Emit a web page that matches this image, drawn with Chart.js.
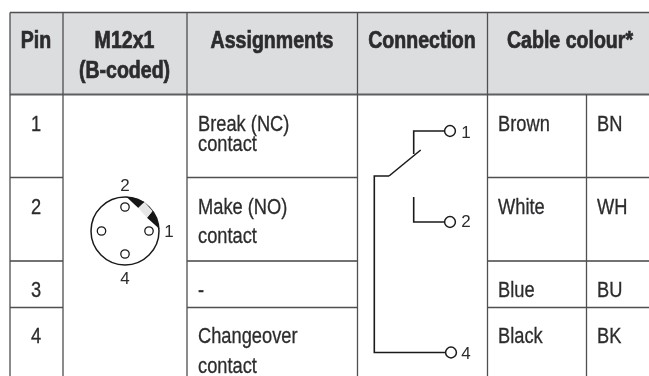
<!DOCTYPE html>
<html>
<head>
<meta charset="utf-8">
<script src="https://cdn.jsdelivr.net/npm/chart.js@4"></script>
<style>
  html, body { margin: 0; padding: 0; background: #fff; }
  canvas { display: block; }
</style>
</head>
<body>
<canvas id="myChart" width="649" height="376"></canvas>
<script>
// Table contents
const headers = [["Pin"], ["M12x1", "(B-coded)"], ["Assignments"], ["Connection"], ["Cable colour*"]];
const pins = ["1", "2", "3", "4"];
const assignments = [["Break (NC)", "contact"], ["Make (NO)", "contact"], ["-"], ["Changeover", "contact"]];
const colours = ["Brown", "White", "Blue", "Black"];
const codes = ["BN", "WH", "BU", "BK"];
const connectorPins = ["2", "1", "4"];
const terminals = ["1", "2", "4"];

// Table layout, in axis units (the axes run 0-649 and 0-376)
const colEdges = [10, 63, 187, 357.5, 487.5, 586.5];
const rowEdges = [12.5, 94.5, 177.5, 261, 307.5];
const tableRight = 649;
const tableBottom = 376;
const headerCentres = [36, 124.5, 272, 422, 570];
const headerBases = [[48], [48, 78], [48], [48], [48]];
const rowBases = [131, 214, 297, 343];
const assignmentBases = [[131, 151], [214, 243], [297], [343, 373]];
const textLefts = { assignment: 198, colour: 498, code: 597 };

// Connector drawing
const connectorCentre = { x: 125, y: 231 };
const connectorHoles = [{ x: 125, y: 207 }, { x: 101.5, y: 231 }, { x: 149, y: 231 }, { x: 125, y: 254 }];
const connectorPinSpots = [{ x: 125, y: 191 }, { x: 169, y: 237 }, { x: 125, y: 284 }];
const keyUpper = [{ x: 126, y: 196.6 }, { x: 135, y: 198 }, { x: 144.5, y: 202 }, { x: 138.3, y: 208 }];
const keyNotch = [{ x: 138.3, y: 208 }, { x: 144.5, y: 202 }, { x: 152.5, y: 211 }, { x: 147, y: 217.7 }];
const keyLower = [{ x: 147, y: 217.7 }, { x: 152.5, y: 211 }, { x: 156.5, y: 218 }, { x: 159.5, y: 229 }];

// Switch drawing
const wireCommon = [{ x: 389, y: 176 }, { x: 374.3, y: 176 }, { x: 374.3, y: 352.5 }, { x: 446, y: 352.5 }];
const wireArm = [{ x: 389, y: 176 }, { x: 420.7, y: 150 }];
const wireOne = [{ x: 413.7, y: 154 }, { x: 413.7, y: 131 }, { x: 445, y: 131 }];
const wireTwo = [{ x: 413.7, y: 197 }, { x: 413.7, y: 222 }, { x: 445, y: 222 }];
const terminalRings = [{ x: 450, y: 131 }, { x: 450, y: 222 }, { x: 451, y: 352.5 }];
const terminalSpots = [{ x: 466, y: 138 }, { x: 466, y: 227 }, { x: 466, y: 359 }];

const INK = "#2c2c2e";
const RULE = "#4f4f51";
const WIRE = "#1a1a1a";
const NARROW = 0.85; // No condensed face installed, so squeeze the text by hand

function seg(x1, y1, x2, y2, color, width) {
  return line([{ x: x1, y: y1 }, { x: x2, y: y2 }], color, width);
}

function line(points, color, width) {
  return {
    data: points, showLine: true, pointRadius: 0, borderColor: color,
    borderWidth: width, tension: 0, clip: false, borderCapStyle: "butt"
  };
}

function shape(points, color) {
  return {
    data: points, showLine: true, pointRadius: 0, borderWidth: 0,
    backgroundColor: color, fill: "shape", tension: 0, clip: false
  };
}

function rings(points, radius, width) {
  return {
    data: points, showLine: false, pointStyle: "circle", pointRadius: radius,
    pointBackgroundColor: "#ffffff", pointBorderColor: WIRE, pointBorderWidth: width, clip: false
  };
}

// Build the table rules
let datasets = [];
datasets.push(shape([
  { x: colEdges[0], y: rowEdges[0] }, { x: tableRight, y: rowEdges[0] },
  { x: tableRight, y: rowEdges[1] }, { x: colEdges[0], y: rowEdges[1] }
], "#dcddde"));

datasets.push(seg(colEdges[0], rowEdges[0], tableRight, rowEdges[0], RULE, 1.3));
datasets.push(seg(colEdges[0], rowEdges[1], tableRight, rowEdges[1], "#5f5f61", 1.8));
for (let i = 2; i < rowEdges.length; i++) {
  let w = i === 3 ? 1.8 : 1.3;
  let c = i === 3 ? "#727274" : RULE;
  datasets.push(seg(colEdges[0], rowEdges[i], colEdges[1], rowEdges[i], c, w));
  datasets.push(seg(colEdges[2], rowEdges[i], colEdges[3], rowEdges[i], c, w));
  datasets.push(seg(colEdges[4], rowEdges[i], tableRight, rowEdges[i], c, w));
}
colEdges.forEach((x, i) => {
  let top = i === 5 ? rowEdges[1] : rowEdges[0];
  datasets.push(seg(x, top, x, tableBottom, RULE, 1.3));
});

// Connector face
datasets.push(rings([connectorCentre], 34, 1.5));
datasets.push(shape(keyUpper, "#161616"));
datasets.push(shape(keyLower, "#161616"));
datasets.push(shape(keyNotch, "#e6e7e8"));
datasets.push(rings(connectorHoles, 4.2, 1.3));

// Switch symbol
datasets.push(line(wireCommon, WIRE, 1.6));
datasets.push(line(wireArm, WIRE, 1.6));
datasets.push(line(wireOne, WIRE, 1.6));
datasets.push(line(wireTwo, WIRE, 1.6));
datasets.push(rings(terminalRings, 5.4, 1.5));

// Chart.js paints the first dataset last, so flip to keep the order above
datasets.reverse();

const tablePrint = {
  id: "tablePrint",
  afterDatasetsDraw(chart) {
    const ctx = chart.ctx;
    const px = v => chart.scales.x.getPixelForValue(v);
    const py = v => chart.scales.y.getPixelForValue(v);
    const put = (str, x, y, font, align, squeeze, weight) => {
      ctx.save();
      ctx.font = font;
      ctx.textAlign = align;
      ctx.textBaseline = "alphabetic";
      ctx.fillStyle = INK;
      ctx.translate(px(x), py(y));
      ctx.scale(squeeze, 1);
      ctx.fillText(str, 0, 0);
      if (weight) { // The reference type is heavier than the squeezed face
        ctx.strokeStyle = INK;
        ctx.lineWidth = weight;
        ctx.strokeText(str, 0, 0);
      }
      ctx.restore();
    };
    const HEAD = "bold 23px 'Liberation Sans', Arial";
    const BODY = "21.5px 'Liberation Sans', Arial";
    const SMALL = "17px 'Liberation Sans', Arial";

    headers.forEach((lines, i) => {
      lines.forEach((t, j) => put(t, headerCentres[i], headerBases[i][j], HEAD, "center", NARROW, 0.7));
    });
    pins.forEach((t, i) => put(t, headerCentres[0], rowBases[i], BODY, "center", NARROW, 0.3));
    assignments.forEach((lines, i) => {
      lines.forEach((t, j) => put(t, textLefts.assignment, assignmentBases[i][j], BODY, "left", NARROW, 0.3));
    });
    colours.forEach((t, i) => put(t, textLefts.colour, rowBases[i], BODY, "left", NARROW, 0.3));
    codes.forEach((t, i) => put(t, textLefts.code, rowBases[i], BODY, "left", NARROW, 0.3));
    connectorPins.forEach((t, i) => put(t, connectorPinSpots[i].x, connectorPinSpots[i].y, SMALL, "center", 1, 0));
    terminals.forEach((t, i) => put(t, terminalSpots[i].x, terminalSpots[i].y, SMALL, "center", 1, 0));
  }
};

let ctx = document.getElementById("myChart").getContext("2d");
let myChart = new Chart(ctx, {
  type: "scatter",
  data: { datasets: datasets },
  plugins: [tablePrint],
  options: {
    responsive: false,
    animation: false,
    events: [],
    layout: { padding: 0, autoPadding: false },
    plugins: { legend: { display: false }, tooltip: { enabled: false } },
    scales: {
      x: { type: "linear", min: 0, max: 649, display: false },
      y: { type: "linear", min: 0, max: 376, reverse: true, display: false }
    }
  }
});
</script>
</body>
</html>
